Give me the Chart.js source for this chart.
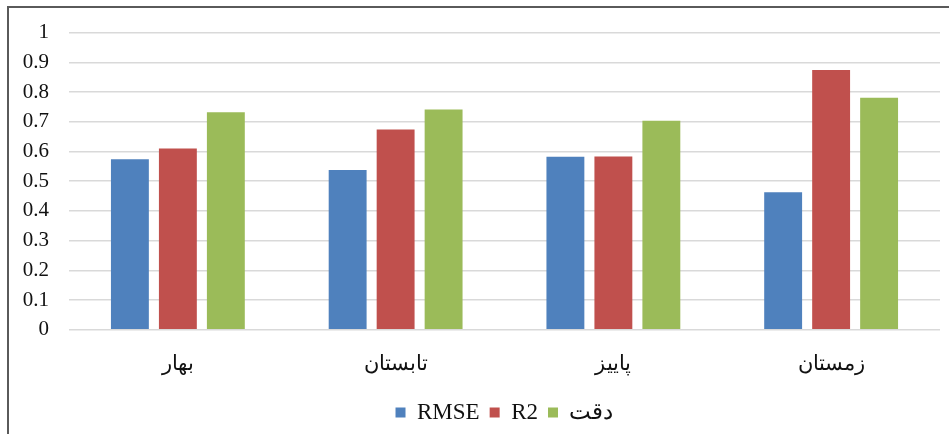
<!DOCTYPE html>
<html>
<head>
<meta charset="utf-8">
<script src="https://cdn.jsdelivr.net/npm/chart.js@4"></script>
<style>
html,body{margin:0;padding:0;background:#fff;}
#wrap{position:absolute;left:0;top:0;width:949px;height:434px;}
</style>
</head>
<body>
<div id="wrap"><canvas id="c" width="949" height="434"></canvas></div>
<script>
const categories = ['بهار', 'تابستان', 'پاییز', 'زمستان'];
const rmse = [0.574, 0.538, 0.582, 0.463];
const r2 = [0.61, 0.674, 0.583, 0.874];
const accuracy = [0.732, 0.741, 0.703, 0.781];
const seriesNames = ['RMSE', 'R2', 'دقت'];
const yTicks = [0, 0.1, 0.2, 0.3, 0.4, 0.5, 0.6, 0.7, 0.8, 0.9, 1];

const FONT = '"Liberation Serif", "Times New Roman", "DejaVu Serif", serif';

const frame = {
  id: 'frame',
  beforeDraw(chart) {
    const ctx = chart.ctx;
    ctx.save();
    ctx.strokeStyle = '#5a5a5a';
    ctx.lineWidth = 2;
    ctx.beginPath();
    ctx.moveTo(8, 434);
    ctx.lineTo(8, 7);
    ctx.lineTo(949, 7);
    ctx.stroke();
    ctx.restore();
  }
};

new Chart(document.getElementById('c'), {
  type: 'bar',
  data: {
    labels: categories,
    datasets: [
      { label: seriesNames[0], data: rmse, backgroundColor: '#4F81BD' },
      { label: seriesNames[1], data: r2, backgroundColor: '#C0504D' },
      { label: seriesNames[2], data: accuracy, backgroundColor: '#9BBB59' }
    ]
  },
  options: {
    responsive: false,
    animation: false,
    layout: { padding: { left: 0, right: 9, top: 27, bottom: 0 } },
    datasets: { bar: { categoryPercentage: 0.661, barPercentage: 0.79 } },
    scales: {
      x: {
        grid: { display: false },
        border: { display: false },
        ticks: { color: '#111', font: { family: FONT, size: 21 }, padding: 14 }
      },
      y: {
        min: 0, max: 1,
        afterFit(scale) { scale.width = 69; },
        afterBuildTicks(scale) { scale.ticks = yTicks.map(v => ({ value: v })); },
        grid: { color: '#D9D9D9', lineWidth: 1.5, drawTicks: false },
        border: { display: false },
        ticks: {
          color: '#111', padding: 20,
          font: { family: FONT, size: 21 },
          callback: v => String(Math.round(v * 10) / 10)
        }
      }
    },
    plugins: {
      tooltip: { enabled: false },
      legend: {
        position: 'bottom',
        fullSize: false,
        labels: {
          boxWidth: 10, boxHeight: 10, padding: 10,
          color: '#111',
          font: { family: FONT, size: 23 }
        }
      }
    }
  },
  plugins: [frame]
});
</script>
</body>
</html>
